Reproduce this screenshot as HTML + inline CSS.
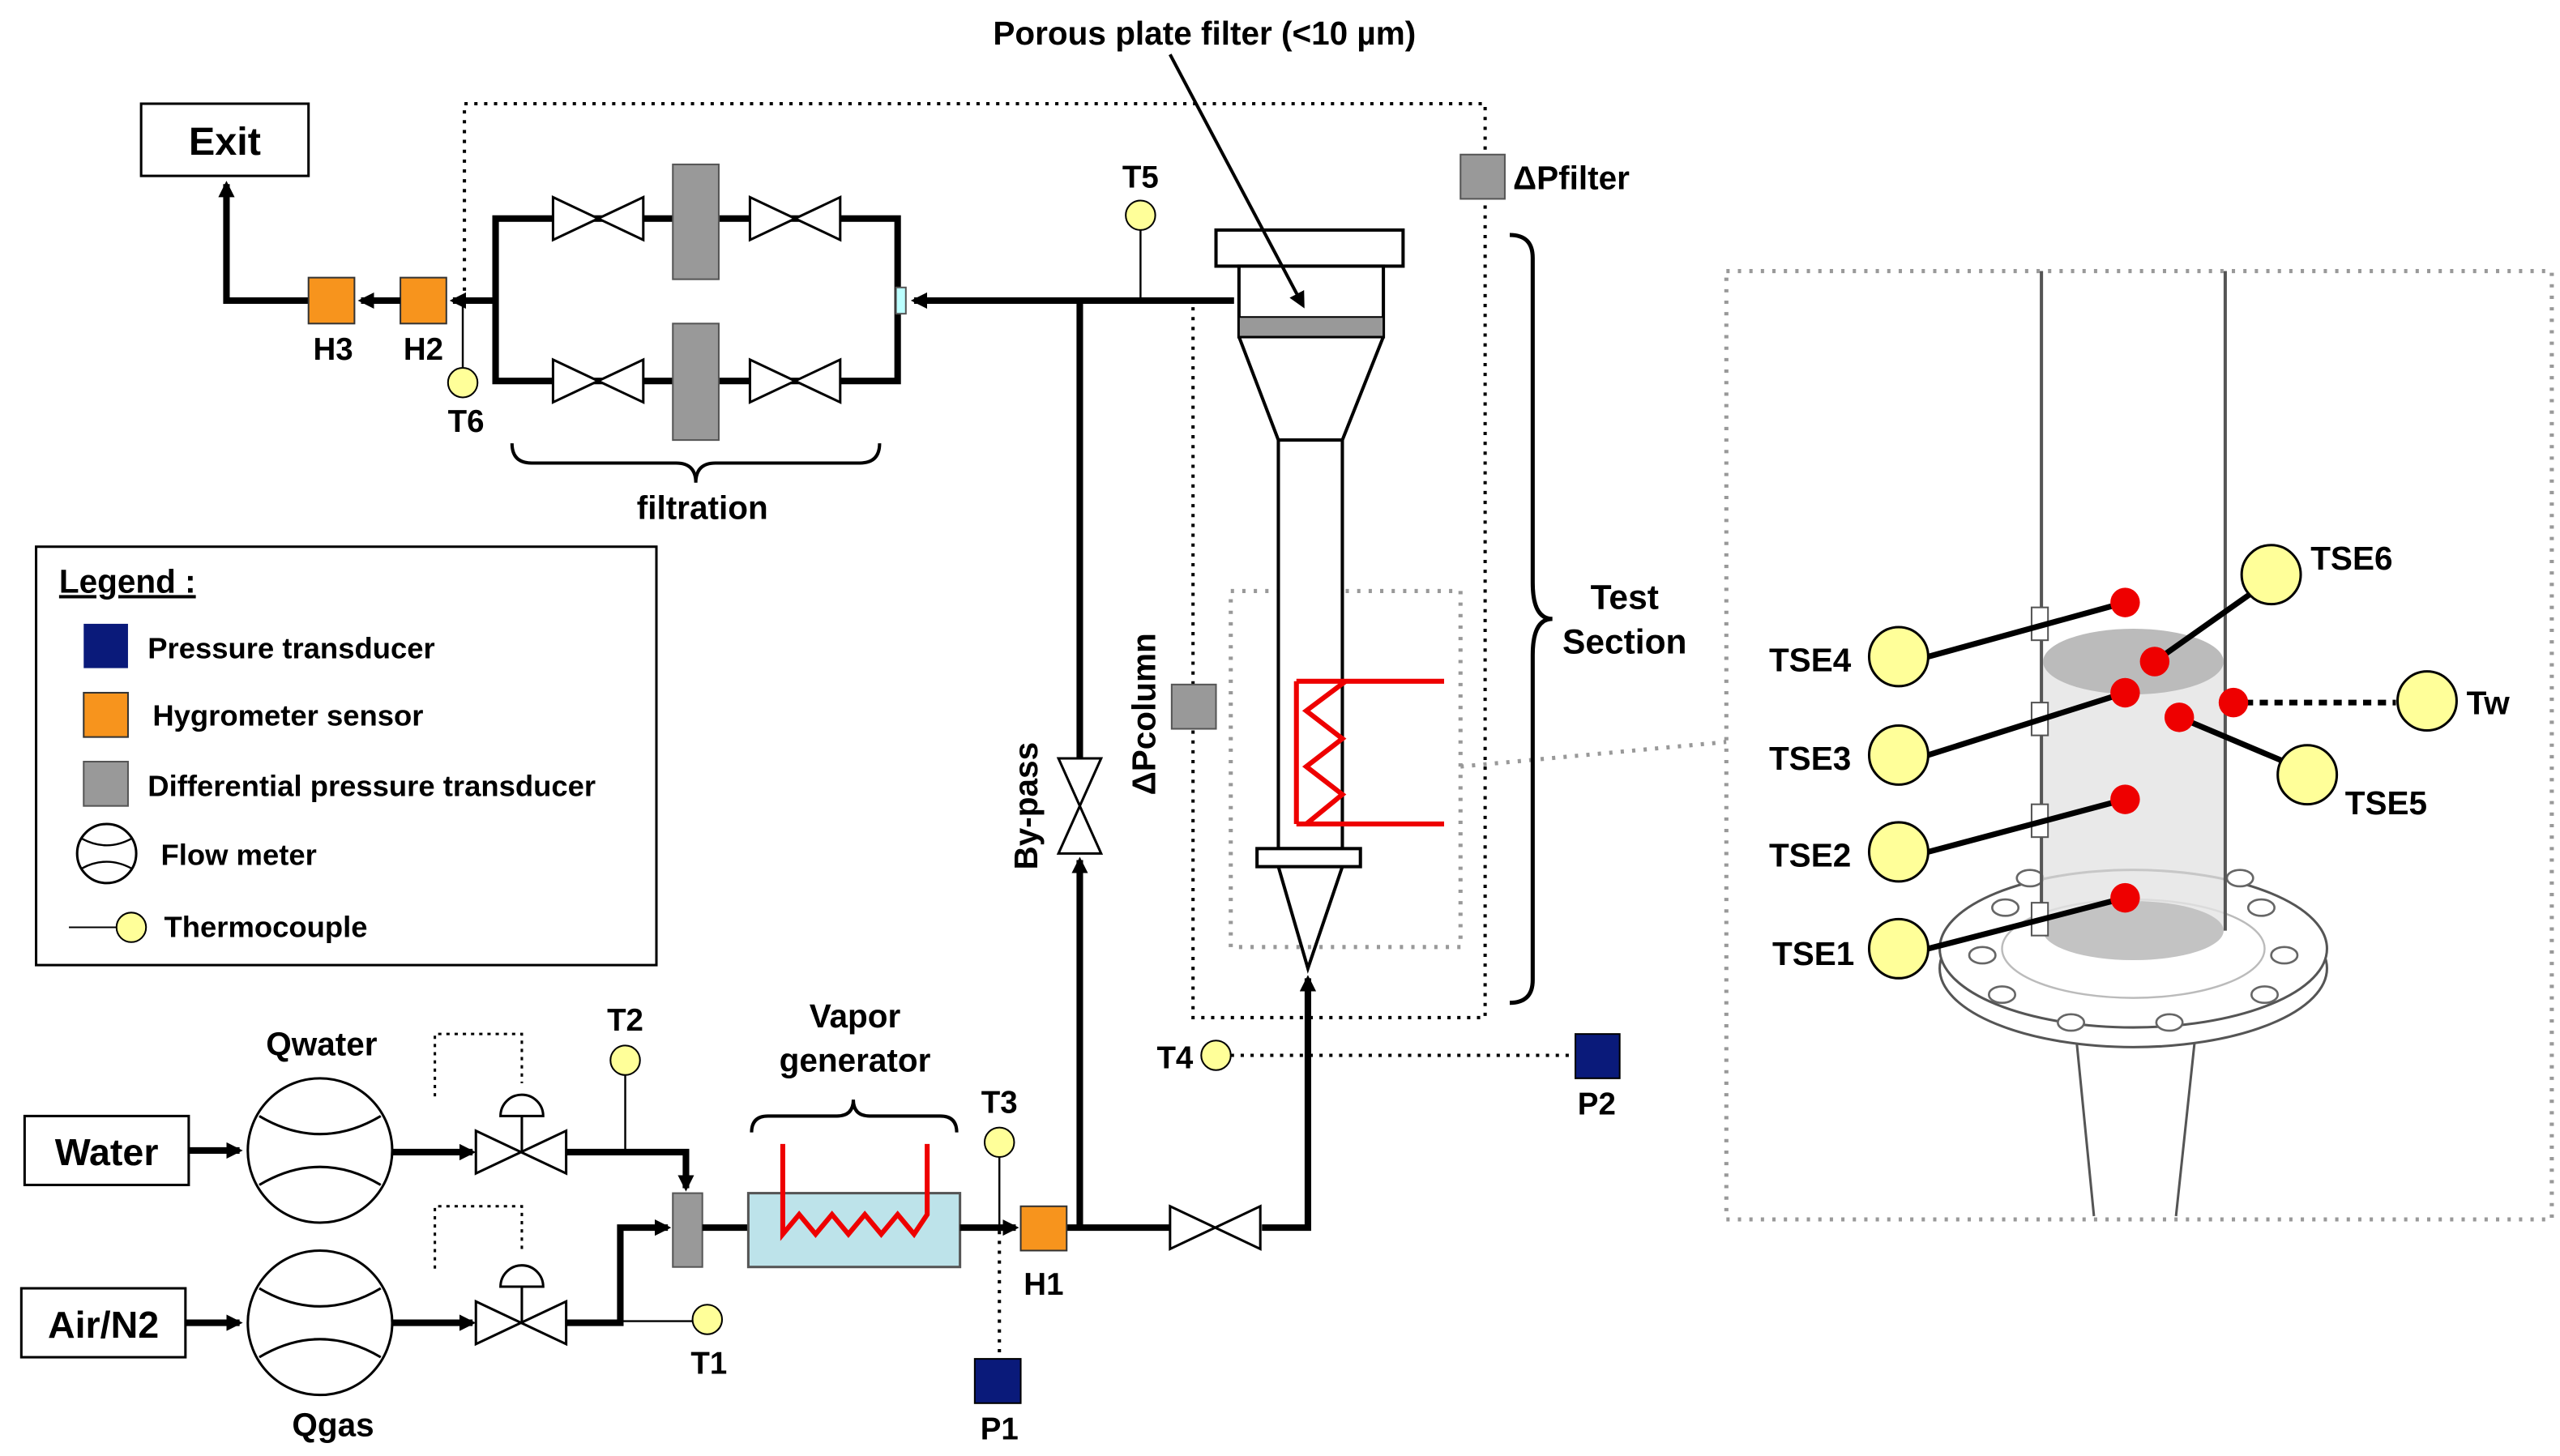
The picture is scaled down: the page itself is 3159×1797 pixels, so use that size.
<!DOCTYPE html>
<html><head><meta charset="utf-8"><style>
html,body{margin:0;padding:0;background:#fff;}
svg{display:block;}
text{font-family:"Liberation Sans",sans-serif;font-weight:bold;fill:#000;}
</style></head><body>
<svg width="3159" height="1797" viewBox="0 0 1560 887" xmlns="http://www.w3.org/2000/svg">
<defs>
<marker id="ar" markerWidth="10" markerHeight="10" refX="8" refY="5" orient="auto" markerUnits="userSpaceOnUse"><path d="M0,0 L10,5 L0,10 z" fill="#000"/></marker>
<g id="valveH"><path d="M0,-13 L55,13 L55,-13 L0,13 Z" fill="#fff" stroke="#000" stroke-width="1.5"/></g>
</defs>
<rect width="1560" height="887" fill="#fff"/>

<rect x="86" y="63" width="102" height="44" fill="#fff" stroke="#000" stroke-width="1.5"/>
<text x="137" y="94" font-size="24" text-anchor="middle">Exit</text>
<polyline points="188,183 138,183 138,112" fill="none" stroke="#000" stroke-width="4" marker-end="url(#ar)"/>
<rect x="188" y="169" width="28" height="28" fill="#f7941d" stroke="#333"/>
<rect x="244" y="169" width="28" height="28" fill="#f7941d" stroke="#333"/>
<line x1="244" y1="183" x2="220" y2="183" stroke="#000" stroke-width="4" marker-end="url(#ar)"/>
<line x1="302" y1="183" x2="276" y2="183" stroke="#000" stroke-width="4" marker-end="url(#ar)"/>
<text x="203" y="219" font-size="19" text-anchor="middle">H3</text>
<text x="258" y="219" font-size="19" text-anchor="middle">H2</text>
<line x1="282" y1="183" x2="282" y2="232" stroke="#000" stroke-width="1.2"/>
<circle cx="282" cy="233" r="9" fill="#ffff99" stroke="#000"/>
<text x="284" y="263" font-size="19" text-anchor="middle">T6</text>

<rect x="302" y="133" width="245" height="99" fill="none" stroke="#000" stroke-width="4"/>
<use href="#valveH" x="337" y="133"/><use href="#valveH" x="457" y="133"/>
<use href="#valveH" x="337" y="232"/><use href="#valveH" x="457" y="232"/>
<rect x="410" y="100" width="28" height="70" fill="#999" stroke="#555"/>
<rect x="410" y="197" width="28" height="71" fill="#999" stroke="#555"/>
<rect x="546" y="175" width="6" height="16" fill="#bff" stroke="#555"/>
<path d="M312,270 q0,12 12,12 h88 q12,0 12,12 q0,-12 12,-12 h88 q12,0 12,-12" fill="none" stroke="#000" stroke-width="2"/>
<text x="428" y="316" font-size="20" text-anchor="middle">filtration</text>

<line x1="752" y1="183" x2="557" y2="183" stroke="#000" stroke-width="4" marker-end="url(#ar)"/>
<line x1="695" y1="140" x2="695" y2="183" stroke="#000" stroke-width="1.2"/>
<circle cx="695" cy="131" r="9" fill="#ffff99" stroke="#000"/>
<text x="695" y="114" font-size="19" text-anchor="middle">T5</text>

<polyline points="283,183 283,63 905,63 905,620 727,620 727,183" fill="none" stroke="#000" stroke-width="2" stroke-dasharray="2,4"/>
<rect x="750" y="360" width="140" height="217" fill="none" stroke="#999" stroke-width="2.5" stroke-dasharray="2,5"/>
<line x1="890" y1="467" x2="1052" y2="452" stroke="#999" stroke-width="2.5" stroke-dasharray="2,5"/>

<rect x="741" y="140" width="114" height="22" fill="#fff" stroke="#000" stroke-width="2"/>
<rect x="755" y="162" width="88" height="43" fill="#fff" stroke="#000" stroke-width="2"/>
<rect x="755" y="193" width="88" height="12" fill="#999" stroke="#000" stroke-width="1"/>
<path d="M755,205 L779,268 L818,268 L843,205" fill="none" stroke="#000" stroke-width="2"/>
<rect x="779" y="268" width="39" height="249" fill="#fff" stroke="#000" stroke-width="2"/>
<rect x="766" y="517" width="63" height="11" fill="#fff" stroke="#000" stroke-width="2"/>
<path d="M779,528 L797,590 L818,528" fill="none" stroke="#000" stroke-width="2"/>
<polyline points="790,415 880,415" fill="none" stroke="#e00" stroke-width="3"/>
<polyline points="790,502 880,502" fill="none" stroke="#e00" stroke-width="3"/>
<polyline points="790,415 790,502" fill="none" stroke="#e00" stroke-width="3"/>
<polyline points="820,415 796,433 818,450 796,467 818,484 796,502" fill="none" stroke="#e00" stroke-width="3"/>
<line x1="713" y1="33" x2="794" y2="186" stroke="#000" stroke-width="2" marker-end="url(#ar)"/>
<text x="734" y="27" font-size="20" text-anchor="middle">Porous plate filter (&lt;10 µm)</text>
<rect x="890" y="94" width="27" height="27" fill="#999" stroke="#555"/>
<text x="922" y="115" font-size="20">ΔPfilter</text>
<path d="M920,143 q14,0 14,14 v198 q0,22 12,22 q-12,0 -12,22 v198 q0,14 -14,14" fill="none" stroke="#000" stroke-width="2.5"/>
<text x="990" y="371" font-size="21" text-anchor="middle">Test</text>
<text x="990" y="398" font-size="21" text-anchor="middle">Section</text>
<rect x="714" y="417" width="27" height="27" fill="#999" stroke="#555"/>
<text x="0" y="0" font-size="20" text-anchor="middle" transform="translate(704,435) rotate(-90)">ΔPcolumn</text>

<line x1="658" y1="183" x2="658" y2="462" stroke="#000" stroke-width="4"/>
<line x1="658" y1="748" x2="658" y2="524" stroke="#000" stroke-width="4" marker-end="url(#ar)"/>
<path d="M645,462 L671,520 L645,520 L671,462 Z" fill="#fff" stroke="#000" stroke-width="1.5"/>
<text x="0" y="0" font-size="20" text-anchor="middle" transform="translate(632,491) rotate(-90)">By-pass</text>

<line x1="650" y1="748" x2="713" y2="748" stroke="#000" stroke-width="4"/>
<use href="#valveH" x="713" y="748"/>
<polyline points="769,748 797,748 797,596" fill="none" stroke="#000" stroke-width="4" marker-end="url(#ar)"/>
<line x1="750" y1="643" x2="960" y2="643" stroke="#000" stroke-width="2" stroke-dasharray="2,4"/>
<circle cx="741" cy="643" r="9" fill="#ffff99" stroke="#000"/>
<text x="716" y="651" font-size="19" text-anchor="middle">T4</text>
<rect x="960" y="630" width="27" height="27" fill="#0a1a7a" stroke="#000"/>
<text x="973" y="679" font-size="19" text-anchor="middle">P2</text>

<rect x="22" y="333" width="378" height="255" fill="#fff" stroke="#000" stroke-width="1.5"/>
<text x="36" y="361" font-size="20" text-decoration="underline">Legend :</text>
<rect x="51" y="380" width="27" height="27" fill="#0a1a7a"/>
<text x="90" y="401" font-size="18">Pressure transducer</text>
<rect x="51" y="422" width="27" height="27" fill="#f7941d" stroke="#333"/>
<text x="93" y="442" font-size="18">Hygrometer sensor</text>
<rect x="51" y="464" width="27" height="27" fill="#999" stroke="#555"/>
<text x="90" y="485" font-size="18">Differential pressure transducer</text>
<circle cx="65" cy="520" r="18" fill="#fff" stroke="#000" stroke-width="1.5"/>
<path d="M50,511 q15,8 30,0 M50,529 q15,-8 30,0" fill="none" stroke="#000" stroke-width="1.2"/>
<text x="98" y="527" font-size="18">Flow meter</text>
<line x1="42" y1="565" x2="72" y2="565" stroke="#000"/>
<circle cx="80" cy="565" r="9" fill="#ffff99" stroke="#000"/>
<text x="100" y="571" font-size="18">Thermocouple</text>

<rect x="15" y="680" width="100" height="42" fill="#fff" stroke="#000" stroke-width="1.5"/>
<text x="65" y="710" font-size="23" text-anchor="middle">Water</text>
<rect x="13" y="785" width="100" height="42" fill="#fff" stroke="#000" stroke-width="1.5"/>
<text x="63" y="815" font-size="23" text-anchor="middle">Air/N2</text>
<line x1="115" y1="701" x2="146" y2="701" stroke="#000" stroke-width="4" marker-end="url(#ar)"/>
<line x1="113" y1="806" x2="146" y2="806" stroke="#000" stroke-width="4" marker-end="url(#ar)"/>
<g fill="#fff" stroke="#000" stroke-width="1.5">
<circle cx="195" cy="701" r="44"/><circle cx="195" cy="806" r="44"/></g>
<path d="M158,680 q37,22 74,0 M158,722 q37,-22 74,0 M158,785 q37,22 74,0 M158,827 q37,-22 74,0" fill="none" stroke="#000" stroke-width="1.5"/>
<text x="196" y="643" font-size="20" text-anchor="middle">Qwater</text>
<text x="203" y="875" font-size="20" text-anchor="middle">Qgas</text>
<line x1="239" y1="702" x2="288" y2="702" stroke="#000" stroke-width="4" marker-end="url(#ar)"/>
<line x1="239" y1="806" x2="288" y2="806" stroke="#000" stroke-width="4" marker-end="url(#ar)"/>
<use href="#valveH" x="290" y="702"/><use href="#valveH" x="290" y="806"/>
<g stroke="#000" stroke-width="1.5" fill="#fff">
<line x1="318" y1="702" x2="318" y2="680"/><path d="M305,680 a13,13 0 0 1 26,0 z"/>
<line x1="318" y1="806" x2="318" y2="784"/><path d="M305,784 a13,13 0 0 1 26,0 z"/></g>
<polyline points="265,668 265,630 318,630 318,660" fill="none" stroke="#000" stroke-width="1.5" stroke-dasharray="2,3"/>
<polyline points="265,773 265,735 318,735 318,764" fill="none" stroke="#000" stroke-width="1.5" stroke-dasharray="2,3"/>
<polyline points="345,702 418,702 418,724" fill="none" stroke="#000" stroke-width="4" marker-end="url(#ar)"/>
<line x1="381" y1="655" x2="381" y2="702" stroke="#000" stroke-width="1.2"/>
<circle cx="381" cy="646" r="9" fill="#ffff99" stroke="#000"/>
<text x="381" y="628" font-size="19" text-anchor="middle">T2</text>
<polyline points="345,806 378,806 378,748 407,748" fill="none" stroke="#000" stroke-width="4" marker-end="url(#ar)"/>
<line x1="378" y1="805" x2="422" y2="805" stroke="#000" stroke-width="1.2"/>
<circle cx="431" cy="804" r="9" fill="#ffff99" stroke="#000"/>
<text x="432" y="837" font-size="19" text-anchor="middle">T1</text>
<rect x="410" y="727" width="18" height="45" fill="#999" stroke="#555"/>
<line x1="428" y1="748" x2="456" y2="748" stroke="#000" stroke-width="4"/>

<rect x="456" y="727" width="129" height="45" fill="#bde3ea" stroke="#555" stroke-width="1.5"/>
<polyline points="477,697 477,752 487,740 497,752 507,740 517,752 527,740 537,752 547,740 557,752 565,740 565,697" fill="none" stroke="#e00" stroke-width="3"/>
<path d="M458,690 q0,-10 10,-10 h42 q10,0 10,-10 q0,10 10,10 h43 q10,0 10,10" fill="none" stroke="#000" stroke-width="2"/>
<text x="521" y="626" font-size="20" text-anchor="middle">Vapor</text>
<text x="521" y="653" font-size="20" text-anchor="middle">generator</text>
<line x1="585" y1="748" x2="619" y2="748" stroke="#000" stroke-width="4" marker-end="url(#ar)"/>
<line x1="609" y1="705" x2="609" y2="748" stroke="#000" stroke-width="1.2"/>
<circle cx="609" cy="696" r="9" fill="#ffff99" stroke="#000"/>
<text x="609" y="678" font-size="19" text-anchor="middle">T3</text>
<line x1="609" y1="750" x2="609" y2="828" stroke="#000" stroke-width="2" stroke-dasharray="2,4"/>
<rect x="594" y="828" width="28" height="27" fill="#0a1a7a" stroke="#000"/>
<text x="609" y="877" font-size="19" text-anchor="middle">P1</text>
<rect x="622" y="735" width="28" height="27" fill="#f7941d" stroke="#333"/>
<text x="636" y="789" font-size="19" text-anchor="middle">H1</text>

<rect x="1052" y="165" width="503" height="578" fill="#fff" stroke="#999" stroke-width="2.5" stroke-dasharray="2,5"/>
<path d="M1263,610 L1276,741 M1340,610 L1326,741" stroke="#555" stroke-width="1.5" fill="none"/>
<ellipse cx="1300" cy="590" rx="118" ry="48" fill="#fff" stroke="#555" stroke-width="1.5"/>
<ellipse cx="1300" cy="578" rx="118" ry="48" fill="#fff" stroke="#555" stroke-width="1.5"/>
<ellipse cx="1300" cy="578" rx="80" ry="30" fill="none" stroke="#bbb" stroke-width="1.2"/>
<g fill="#fff" stroke="#666" stroke-width="1.3">
<ellipse cx="1208" cy="582" rx="8" ry="5"/><ellipse cx="1392" cy="582" rx="8" ry="5"/>
<ellipse cx="1222" cy="553" rx="8" ry="5"/><ellipse cx="1378" cy="553" rx="8" ry="5"/>
<ellipse cx="1220" cy="606" rx="8" ry="5"/><ellipse cx="1380" cy="606" rx="8" ry="5"/>
<ellipse cx="1262" cy="623" rx="8" ry="5"/><ellipse cx="1322" cy="623" rx="8" ry="5"/>
<ellipse cx="1237" cy="535" rx="8" ry="5"/><ellipse cx="1365" cy="535" rx="8" ry="5"/></g>
<path d="M1245,403 V567 A55,18 0 0 0 1355,567 V403 Z" fill="#e4e4e4" opacity="0.8"/>
<ellipse cx="1300" cy="567" rx="55" ry="18" fill="#aaa" opacity="0.6"/>
<line x1="1244" y1="165" x2="1244" y2="567" stroke="#555" stroke-width="2"/>
<line x1="1356" y1="165" x2="1356" y2="567" stroke="#555" stroke-width="2"/>
<ellipse cx="1300" cy="403" rx="55" ry="20" fill="#bbb"/>
<g fill="#fff" stroke="#555" stroke-width="1"><rect x="1238" y="370" width="10" height="20"/><rect x="1238" y="428" width="10" height="20"/><rect x="1238" y="490" width="10" height="20"/><rect x="1238" y="550" width="10" height="20"/></g>
<g stroke="#000" stroke-width="3.5">
<line x1="1175" y1="400" x2="1295" y2="367"/><line x1="1175" y1="460" x2="1295" y2="422"/>
<line x1="1175" y1="519" x2="1295" y2="487"/><line x1="1175" y1="578" x2="1295" y2="547"/>
<line x1="1371" y1="362" x2="1313" y2="403"/><line x1="1392" y1="464" x2="1328" y2="437"/></g>
<line x1="1368" y1="428" x2="1460" y2="428" stroke="#000" stroke-width="3.5" stroke-dasharray="5,4"/>
<g fill="#ee0000">
<circle cx="1295" cy="367" r="9"/><circle cx="1313" cy="403" r="9"/><circle cx="1295" cy="422" r="9"/>
<circle cx="1328" cy="437" r="9"/><circle cx="1361" cy="428" r="9"/><circle cx="1295" cy="487" r="9"/><circle cx="1295" cy="547" r="9"/></g>
<g fill="#ffff99" stroke="#000" stroke-width="1.5">
<circle cx="1157" cy="400" r="18"/><circle cx="1157" cy="460" r="18"/><circle cx="1157" cy="519" r="18"/><circle cx="1157" cy="578" r="18"/>
<circle cx="1384" cy="350" r="18"/><circle cx="1406" cy="472" r="18"/><circle cx="1479" cy="427" r="18"/></g>
<g font-size="20">
<text x="1078" y="409">TSE4</text><text x="1078" y="469">TSE3</text><text x="1078" y="528">TSE2</text><text x="1080" y="588">TSE1</text>
<text x="1408" y="347">TSE6</text><text x="1429" y="496">TSE5</text><text x="1503" y="435">Tw</text></g>
</svg>
</body></html>
